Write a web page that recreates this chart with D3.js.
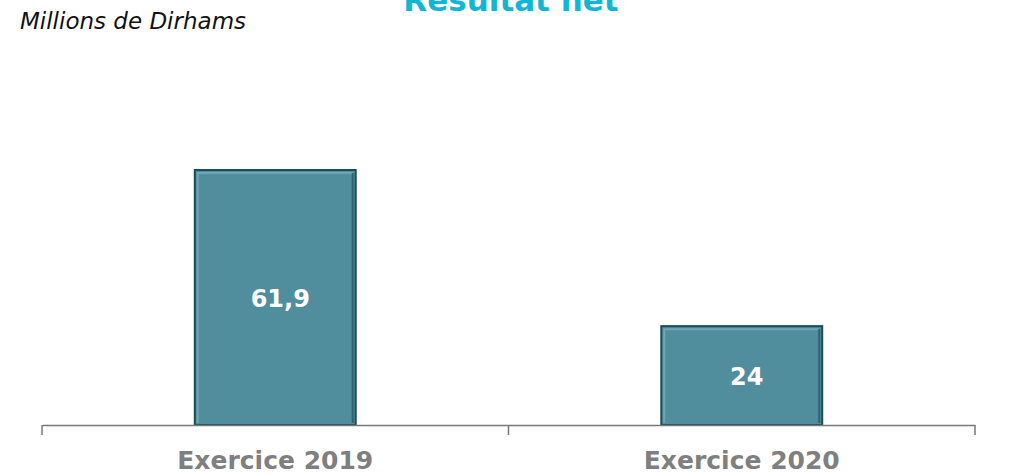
<!DOCTYPE html>
<html>
<head>
<meta charset="utf-8">
<script src="https://cdn.jsdelivr.net/npm/d3@7"></script>
<style>
  body { margin: 0; background: white; }
</style>
</head>
<body>
<script>
// data
let categories = ["Exercice 2019", "Exercice 2020"]
let values = [61.9, 24]
let valueLabels = ["61,9", "24"]

let W = 1019, H = 475

let svg = d3.select("body")
  .append("svg")
    .attr("width", W)
    .attr("height", H)
    .attr("id", "drawhere")

let x = d3.scaleBand()
  .domain(categories)
  .range([42, 975])
  .padding(0)

let y = d3.scaleLinear()
  .domain([0, 61.9])
  .range([425, 170])

let barW = x.bandwidth() * 0.345

// title (cut off at the top, as in the original)
svg.append("text")
  .attr("x", 511)
  .attr("y", 11)
  .attr("text-anchor", "middle")
  .attr("font-family", "DejaVu Sans")
  .attr("font-weight", "bold")
  .attr("font-size", 31)
  .attr("fill", "#12b6d4")
  .text("Résultat net")

svg.append("text")
  .attr("x", 20)
  .attr("y", 29)
  .attr("font-family", "DejaVu Sans")
  .attr("font-style", "italic")
  .attr("font-size", 23)
  .attr("fill", "#111")
  .text("Millions de Dirhams")

// bars
let bars = svg.append("g").attr("id", "bars")
for (let i = 0; i < categories.length; i++) {
    let cx = x(categories[i]) + x.bandwidth() / 2
    let x0 = cx - barW / 2
    let y0 = y(values[i])
    let h = y(0) - y0

    bars.append("rect")
      .attr("x", x0)
      .attr("y", y0)
      .attr("width", barW)
      .attr("height", h)
      .attr("fill", "#508d9d")
      .attr("stroke", "#1e4b58")
      .attr("stroke-width", 2)

    // bevel: light top/left, dark right
    bars.append("path")
      .attr("d", `M${x0 + 3},${y(0) - 2} L${x0 + 3},${y0 + 3} L${x0 + barW - 3},${y0 + 3}`)
      .attr("fill", "none")
      .attr("stroke", "#6fa6b4")
      .attr("stroke-width", 2)
    bars.append("path")
      .attr("d", `M${x0 + barW - 3},${y0 + 3} L${x0 + barW - 3},${y(0) - 2}`)
      .attr("fill", "none")
      .attr("stroke", "#2f6370")
      .attr("stroke-width", 2)

    bars.append("text")
      .attr("x", cx + 5)
      .attr("y", (y0 + y(0)) / 2 + 9)
      .attr("text-anchor", "middle")
      .attr("font-family", "DejaVu Sans")
      .attr("font-weight", "bold")
      .attr("font-size", 24)
      .attr("fill", "white")
      .text(valueLabels[i])
}

// axis
let axis = d3.axisBottom(x)
  .tickValues([])
  .tickSizeOuter(0)

let gx = svg.append("g")
  .attr("transform", "translate(0,425)")
  .call(axis)
gx.select(".domain").attr("stroke", "#777").attr("stroke-width", 1.5)

let tickPos = [42, x(categories[1]), 975]
gx.selectAll(".sep")
  .data(tickPos)
  .join("line")
    .attr("x1", d => d)
    .attr("x2", d => d)
    .attr("y1", 0)
    .attr("y2", 10)
    .attr("stroke", "#777")
    .attr("stroke-width", 1.5)

svg.selectAll(".cat")
  .data(categories)
  .join("text")
    .attr("x", d => x(d) + x.bandwidth() / 2)
    .attr("y", 469)
    .attr("text-anchor", "middle")
    .attr("font-family", "DejaVu Sans")
    .attr("font-weight", "bold")
    .attr("font-size", 25)
    .attr("fill", "#7f7f7f")
    .text(d => d)
</script>
</body>
</html>
